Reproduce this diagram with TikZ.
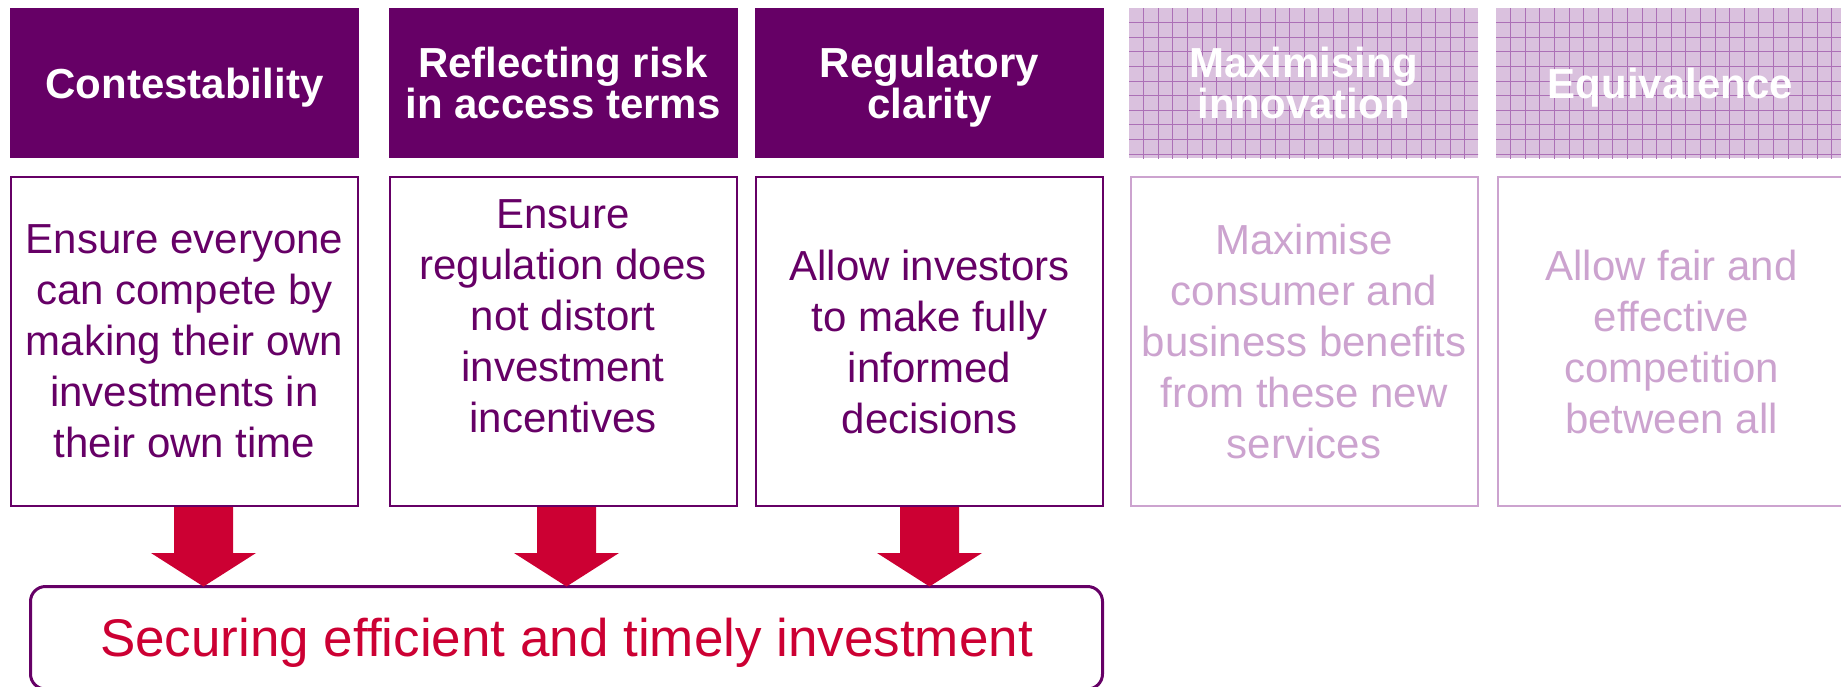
\documentclass[tikz,border=0pt]{standalone}
\usepackage{fontspec}
\setmainfont{Liberation Sans}
\usetikzlibrary{calc}

\definecolor{purp}{RGB}{102,0,102}
\definecolor{arrowred}{RGB}{204,0,51}
\definecolor{fade}{RGB}{204,163,207}
\definecolor{fadefill}{RGB}{218,193,222}
\definecolor{gridcol}{RGB}{172,112,182}

% block arrow pointing down from one node to another along a vertical axis
\newcommand\blockarrow[3]{%
  \fill[arrowred]
    ($(#2.south -| #1)+(-29.5,1)$) -- ($(#2.south -| #1)+(29.5,1)$) --
    ($(#2.south -| #1)+(29.5,47)$) -- ($(#2.south -| #1)+(52.5,47)$) --
    (#3.north -| #1) --
    ($(#2.south -| #1)+(-52.5,47)$) -- ($(#2.south -| #1)+(-29.5,47)$) -- cycle;}

\tikzset{
  hdr/.style={fill=purp, text=white, font=\bfseries\fontsize{21}{20.5}\selectfont,
    align=center, minimum width=174.5pt, minimum height=75pt,
    inner sep=0pt, outer sep=0pt, text depth=0pt},
  fadehdr/.style={hdr, fill=fadefill,
    path picture={
      \foreach \i in {1,...,23}
        \draw[gridcol, line width=0.45pt]
          ($(path picture bounding box.north west)+(\i*7.3pt,0pt)$) -- ++(0pt,-80pt);
      \foreach \j in {1,...,10}
        \draw[gridcol, line width=0.45pt]
          ($(path picture bounding box.north west)+(0pt,-\j*7.3pt)$) -- ++(180pt,0pt);
    }},
  body/.style={draw=purp, line width=1pt, text=purp,
    font=\fontsize{21}{25.5}\selectfont, align=center,
    minimum width=173.5pt, minimum height=164.5pt, inner sep=0pt, outer sep=0pt},
  fadebody/.style={body, draw=fade, text=fade},
  goalbox/.style={draw=purp, line width=1.5pt, rounded corners=7.5pt, text=arrowred,
    font=\fontsize{26.5}{30}\selectfont, minimum width=536pt, minimum height=51.25pt,
    inner sep=0pt, outer sep=0pt, text depth=0pt}
}

\begin{document}
\begin{tikzpicture}[x=0.5pt, y=-0.5pt]
  \useasboundingbox (0,0) rectangle (1841,686);
  \clip (0,0) rectangle (1841,686);

  % column headings
  \node[hdr] (h1) at (184.5,83) {Contestability};
  \node[hdr] (h2) at (563,83) {Reflecting risk\\in access terms};
  \node[hdr] (h3) at (929.5,83) {Regulatory\\clarity};
  \node[fadehdr] (h4) at (1303.5,83) {Maximising\\innovation};
  \node[fadehdr] (h5) at (1670.5,83) {Equivalence};

  % objectives
  \node[body] (b1) at (184.5,341.5)
    {Ensure everyone\\can compete by\\making their own\\investments in\\their own time};
  \node[body] (b2) at (563,341.5)
    {Ensure\\regulation does\\not distort\\investment\\incentives\\\mbox{}};
  \node[body] (b3) at (929.5,341.5)
    {Allow investors\\to make fully\\informed\\decisions};
  \node[fadebody] (b4) at (1304,341.5)
    {Maximise\\consumer and\\business benefits\\from these new\\services};
  \node[fadebody] (b5) at (1671.5,341.5)
    {Allow fair and\\effective\\competition\\between all};

  % overall outcome
  \node[goalbox] (goal) at (566.5,637.75) {Securing efficient and timely investment};

  % arrows into the outcome
  \coordinate (x1) at (203.5,0);
  \coordinate (x2) at (566.5,0);
  \coordinate (x3) at (929.5,0);
  \blockarrow{x1}{b1}{goal}
  \blockarrow{x2}{b2}{goal}
  \blockarrow{x3}{b3}{goal}
\end{tikzpicture}
\end{document}
